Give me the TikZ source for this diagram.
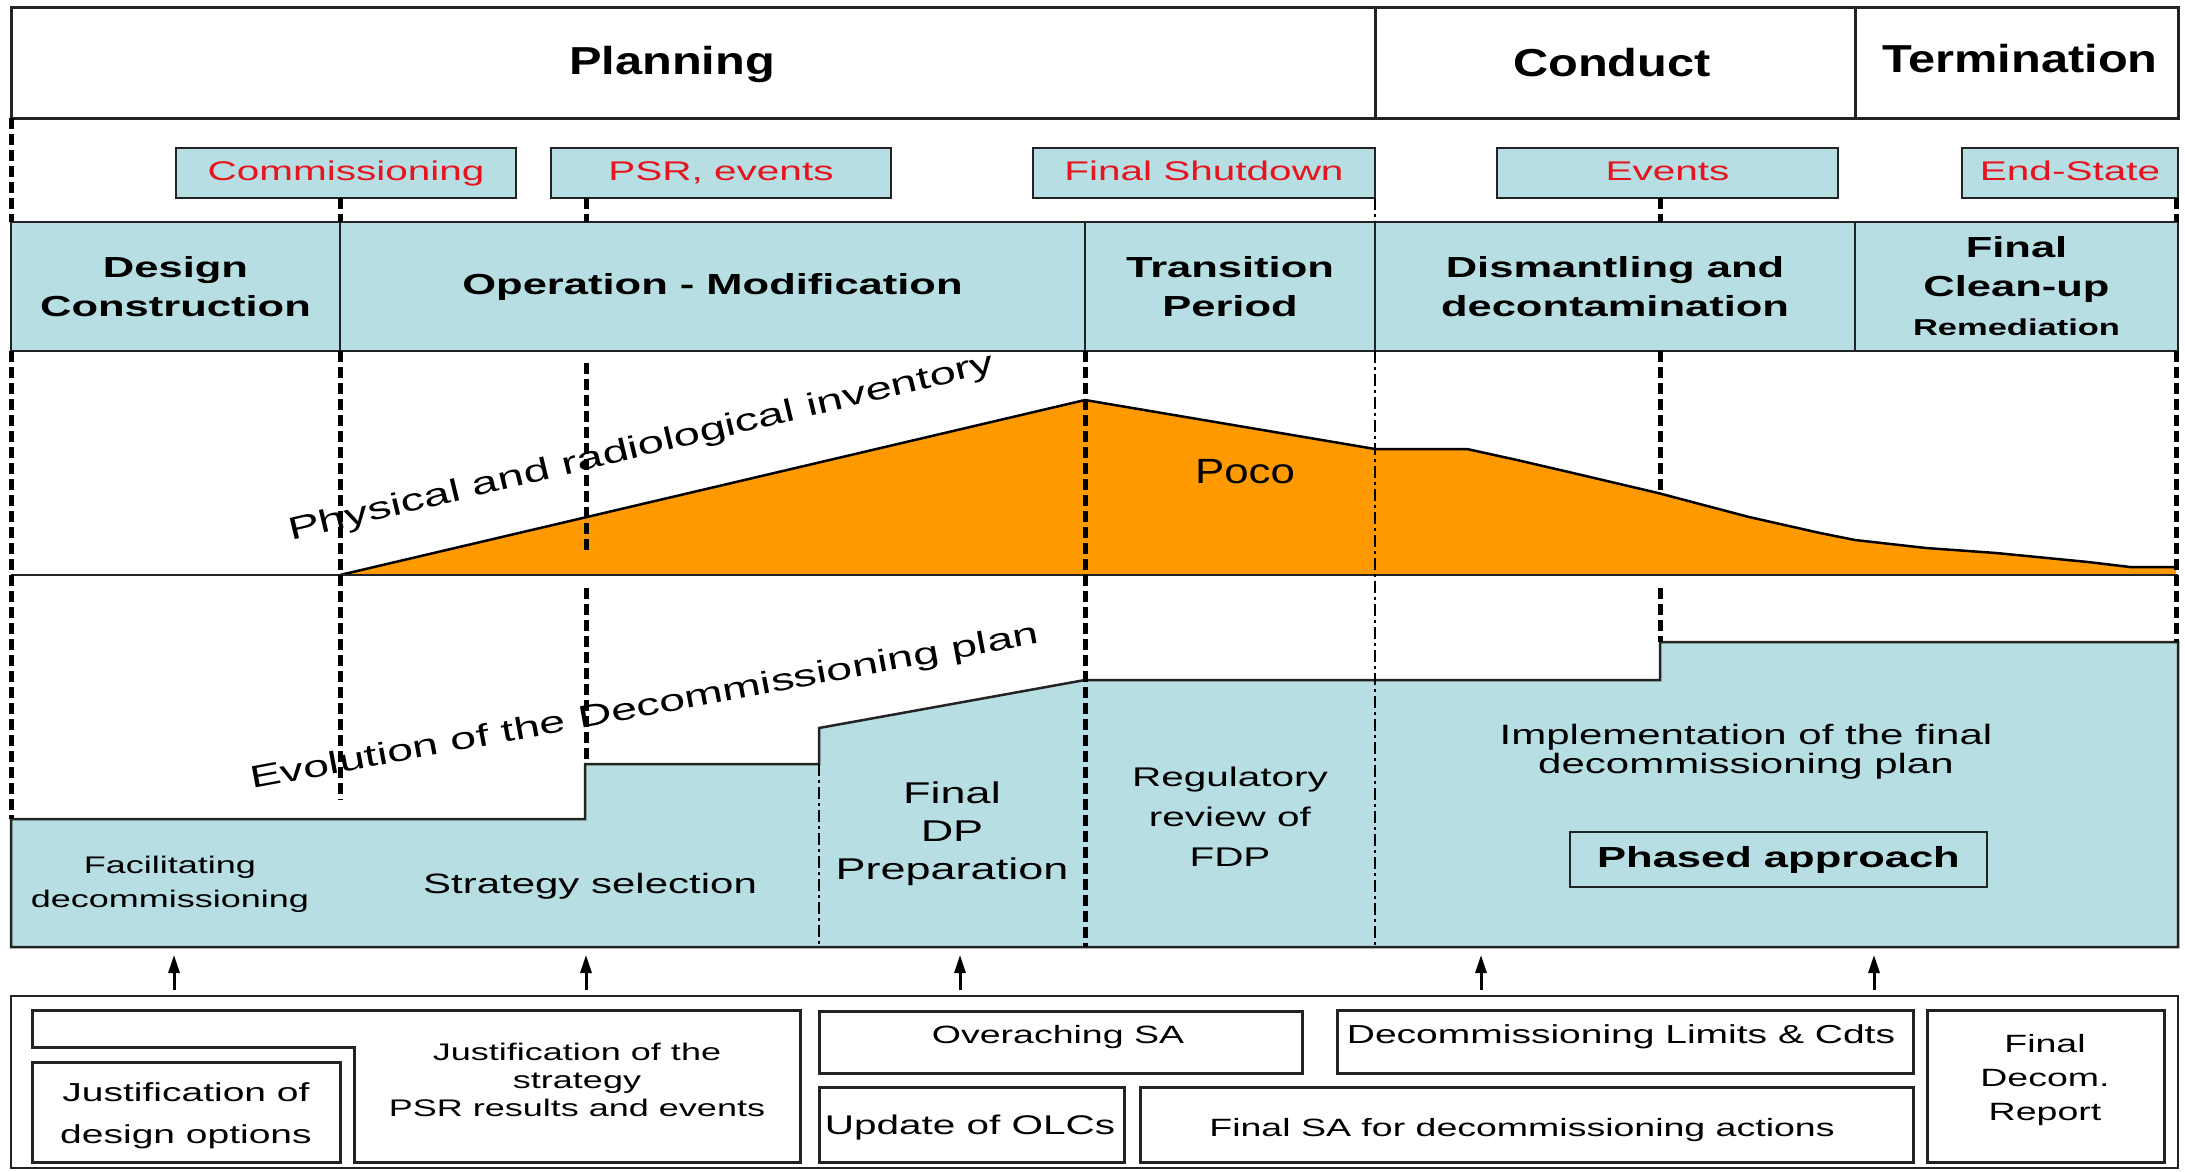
\documentclass[tikz,border=0pt]{standalone}
\usepackage{fontspec}
\setmainfont[FakeStretch=1.5]{Liberation Sans}
\newfontfamily\hdrfont[FakeStretch=1.25]{Liberation Sans}
\usetikzlibrary{arrows.meta}
\definecolor{lblue}{RGB}{183,222,226}
\definecolor{orng}{RGB}{255,153,0}
\definecolor{redtxt}{RGB}{230,20,30}
\definecolor{edge}{RGB}{35,35,35}
\newcommand{\fs}[2]{\fontsize{#1}{#2}\selectfont}
\begin{document}
\begin{tikzpicture}[x=1pt,y=-1pt,
  hdrbox/.style={draw=edge,line width=3pt,minimum height=111pt,inner sep=0pt},
  evbox/.style={draw=edge,line width=2.5pt,fill=lblue,minimum height=50pt,inner sep=0pt,text=redtxt,font=\fs{27}{30},text height=19pt,text depth=5pt},
  phbox/.style={draw=edge,line width=2.5pt,fill=lblue,minimum height=129pt,inner sep=0pt,align=center,font=\bfseries\fs{29}{39}},
  hdrtext/.style={font=\hdrfont\bfseries\fs{39}{44},anchor=base},
  mk/.style={line width=5pt,dash pattern=on 11pt off 5pt},
  tmk/.style={line width=2pt,dash pattern=on 12pt off 4pt on 3pt off 4pt},
  botbox/.style={draw=edge,line width=3pt,inner sep=0pt},
  bt/.style={font=\fs{25}{30},align=center},
  lt/.style={font=\fs{28}{38},align=center},
  up/.style={line width=3pt,-{Triangle[length=18pt,width=11pt]}},
]
\fill[white] (0,0) rectangle (2185,1171);
\useasboundingbox (0,0) rectangle (2185,1171);

% ---------- header row
\node[hdrbox,minimum width=1364pt] (hplan) at (693,62.5) {};
\node[hdrbox,minimum width=480pt] (hcond) at (1615,62.5) {};
\node[hdrbox,minimum width=323pt] (hterm) at (2016.5,62.5) {};
\node[hdrtext] (tplan) at (672,74) {Planning};
\node[hdrtext] (tcond) at (1612,76) {Conduct};
\node[hdrtext] (tterm) at (2020,72) {Termination};

% ---------- event boxes
\node[evbox,minimum width=340pt] (comm) at (346,173) {Commissioning};
\node[evbox,minimum width=340pt] (psr) at (721,173) {PSR, events};
\node[evbox,minimum width=342pt] (fsd) at (1204,173) {Final Shutdown};
\node[evbox,minimum width=341pt] (evt) at (1667.5,173) {Events};
\node[evbox,minimum width=216pt] (endst) at (2070,173) {End-State};

% ---------- phase row
\node[phbox,minimum width=329pt] (design) at (175.5,286.5) {Design\\Construction};
\node[phbox,minimum width=745pt] (oper) at (712.5,286.5) {Operation - Modification};
\node[phbox,minimum width=290pt] (trans) at (1230,286.5) {Transition\\Period};
\node[phbox,minimum width=480pt] (dism) at (1615,286.5) {Dismantling and\\decontamination};
\node[phbox,minimum width=323pt] (fclean) at (2016.5,286.5) {Final\\Clean-up\\{\fs{23}{36}Remediation}};

% ---------- decommissioning plan area
\draw[fill=lblue,draw=edge,line width=2.5pt]
  (11,819) -- (585,819) -- (585,764) -- (819,764) -- (819,728) -- (1085,680)
  -- (1660,680) -- (1660,642) -- (2178,642) -- (2178,947) -- (11,947) -- cycle;

% ---------- inventory area
\fill[orng] (340,575) -- (1085,400) -- (1375,449) -- (1467,449) -- (1517,460)
  -- (1573,473) -- (1658,493) -- (1749,517) -- (1820,533) -- (1855,540)
  -- (1926,548) -- (1996,553) -- (2088,562) -- (2130,567) -- (2176,567)
  -- (2176,575) -- cycle;
\draw[line width=2.5pt] (340,575) -- (1085,400) -- (1375,449) -- (1467,449) -- (1517,460)
  -- (1573,473) -- (1658,493) -- (1749,517) -- (1820,533) -- (1855,540)
  -- (1926,548) -- (1996,553) -- (2088,562) -- (2130,567) -- (2176,567);
\draw[edge,line width=2pt] (11,575) -- (2178,575);
\node[font=\hdrfont\fs{35}{40}] (poco) at (1245,472) {Poco};

% ---------- milestone dashed lines
\draw[mk] (11,118) -- (11,222);
\draw[mk] (11,351) -- (11,819);
\draw[mk] (340,198) -- (340,222);
\draw[mk] (340,351) -- (340,800);
\draw[mk] (586,198) -- (586,222);
\draw[mk] (586,363) -- (586,553);
\draw[mk] (586,588) -- (586,764);
\draw[mk] (1085,351) -- (1085,947);
\draw[mk] (1660,198) -- (1660,222);
\draw[mk] (1660,351) -- (1660,490);
\draw[mk] (1660,588) -- (1660,642);
\draw[mk] (2176,198) -- (2176,222);
\draw[mk] (2176,351) -- (2176,642);
\draw[tmk] (1375,198) -- (1375,222);
\draw[tmk] (1375,351) -- (1375,947);
\draw[tmk] (819,764) -- (819,947);

% ---------- sloped labels
\node[font=\fs{31.5}{36},anchor=base west,rotate=13.5,inner sep=0pt] (phys) at (291,541) {Physical and radiological inventory};
\node[font=\fs{31}{36},anchor=base west,rotate=10.5,inner sep=0pt] (evol) at (252,789) {Evolution of the Decommissioning plan};

% ---------- plan texts
\node[font=\fs{24}{34},align=center] (facil) at (170,884) {Facilitating\\decommissioning};
\node[lt,anchor=base] (strat) at (590,893) {Strategy selection};
\node[font=\fs{30}{38},align=center] (fdp) at (952,834) {Final\\DP\\Preparation};
\node[font=\fs{27}{40},align=center] (regul) at (1230,817) {Regulatory\\review of\\FDP};
\node[font=\fs{28}{29},align=center] (impl) at (1746,752) {Implementation of the final\\decommissioning plan};
\node[draw=edge,line width=2.5pt,minimum width=417pt,minimum height=55pt,inner sep=0pt,font=\bfseries\fs{29}{34}] (phased) at (1778.5,859.5) {Phased approach};

% ---------- bottom safety assessment boxes
\node[draw=edge,line width=2pt,minimum width=2167pt,minimum height=172pt,inner sep=0pt] (outer) at (1094.5,1082) {};
\draw[edge,line width=3pt] (32,1010) -- (800,1010) -- (800,1162) -- (354,1162) -- (354,1047) -- (32,1047) -- cycle;
\node[bt,font=\fs{24}{28}] (jstrat) at (577,1080) {Justification of the\\strategy\\PSR results and events};
\node[botbox,minimum width=308pt,minimum height=100pt] (jdes) at (186,1112) {};
\node[bt,font=\fs{26}{42}] (jdest) at (186,1116) {Justification of\\design options};
\node[botbox,minimum width=483pt,minimum height=62pt] (over) at (1060.5,1042) {};
\node[bt] (overt) at (1058,1037) {Overaching SA};
\node[botbox,minimum width=305pt,minimum height=75pt] (olc) at (971.5,1124.5) {};
\node[bt,font=\fs{27}{30}] (olct) at (970,1128) {Update of OLCs};
\node[botbox,minimum width=576pt,minimum height=63pt] (dlc) at (1625,1041.5) {};
\node[bt,font=\fs{26}{30}] (dlct) at (1621,1037) {Decommissioning Limits \& Cdts};
\node[botbox,minimum width=773pt,minimum height=75pt] (fsa) at (1526.5,1124.5) {};
\node[bt] (fsat) at (1522,1130) {Final SA for decommissioning actions};
\node[botbox,minimum width=237pt,minimum height=152pt] (fdr) at (2045.5,1086) {};
\node[bt,font=\fs{25}{34}] (fdrt) at (2045,1080) {Final\\Decom.\\Report};

% ---------- arrows
\foreach \i/\xx in {1/174,2/586,3/960,4/1481,5/1874}{
  \coordinate (as\i) at (\xx,990);
  \coordinate (ae\i) at (\xx,955);
  \draw[up] (as\i) -- (ae\i);
}
\end{tikzpicture}
\end{document}
